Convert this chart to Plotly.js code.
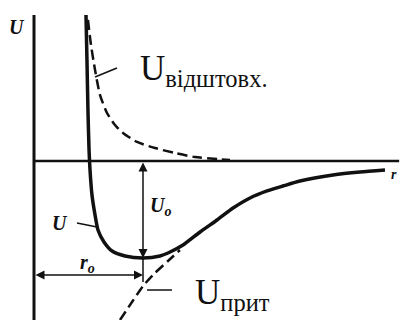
<!DOCTYPE html>
<html>
<head>
<meta charset="utf-8">
<script src="https://cdn.plot.ly/plotly-3.0.1.min.js"></script>
<style>
  html, body { margin: 0; padding: 0; background: #fff; }
  #chart { width: 400px; height: 320px; }
</style>
</head>
<body>
<div id="chart"></div>
<script>
'use strict';

// r in units of r0, U in units of U0
const totalR = [0.477, 0.486, 0.495, 0.505, 0.514, 0.532, 0.560, 0.587, 0.642, 0.716, 0.835, 1.000,
  1.156, 1.248, 1.367, 1.523, 1.679, 1.826, 1.982, 2.138, 2.284, 2.440, 2.743, 2.991, 3.220];
const totalU = [1.505, 1.041, 0.526, 0.113, -0.093, -0.351, -0.557, -0.711, -0.835, -0.928, -0.979, -1.000,
  -0.979, -0.938, -0.866, -0.732, -0.608, -0.485, -0.381, -0.309, -0.258, -0.206, -0.144, -0.113, -0.093];

const repR = [0.495, 0.523, 0.560, 0.606, 0.670, 0.743, 0.817, 0.945, 1.110, 1.294, 1.477, 1.798];
const repU = [1.454, 1.196, 0.938, 0.680, 0.495, 0.371, 0.289, 0.196, 0.134, 0.082, 0.041, 0.010];

const attR = [0.789, 0.899, 1.000, 1.110, 1.229, 1.339];
const attU = [-1.639, -1.454, -1.289, -1.155, -1.031, -0.918];

const r0 = 1;
const U0 = 1;

const labelRep = 'U<sub>відштовх.</sub>';
const labelAtt = 'U<sub>прит</sub>';

const INK = '#111';
const SERIF = 'Liberation Serif';

const data = [
  {
    x: repR, y: repU, type: 'scatter', mode: 'lines',
    line: {color: INK, width: 2.5, dash: '10px,5px', shape: 'spline', smoothing: 0.6},
    hoverinfo: 'skip'
  },
  {
    x: attR, y: attU, type: 'scatter', mode: 'lines',
    line: {color: INK, width: 2.5, dash: '10px,5px', shape: 'spline', smoothing: 0.6},
    hoverinfo: 'skip'
  },
  {
    x: totalR, y: totalU, type: 'scatter', mode: 'lines',
    line: {color: INK, width: 3.5, shape: 'spline', smoothing: 0.6},
    hoverinfo: 'skip'
  }
];

function seg(x0, y0, x1, y1, width) {
  return {type: 'line', xref: 'x', yref: 'y', x0, y0, x1, y1,
    line: {color: INK, width: width || 1.5}};
}

const shapes = [
  seg(0, -1.7, 0, 1.505, 3),          // U axis
  seg(0, 0, 3.35, 0, 2.5),            // r axis
  seg(r0, -U0, r0, -1.247, 1.5),      // drop line under the minimum
  seg(0.560, 0.866, 0.761, 0.959),    // leaders
  seg(0.394, -0.639, 0.578, -0.680),
  seg(1.037, -1.330, 1.266, -1.330)
];

function arrow(x, y, ax, ay) {
  return {x, y, ax, ay, xref: 'x', yref: 'y', axref: 'x', ayref: 'y',
    text: '', showarrow: true, arrowhead: 2, startarrowhead: 2, arrowside: 'end+start',
    arrowsize: 1.2, startarrowsize: 1.2, arrowwidth: 1.5, arrowcolor: INK};
}

function label(x, y, text, size, xanchor) {
  return {x, y, xref: 'x', yref: 'y', text, showarrow: false,
    xanchor: xanchor || 'center', yanchor: 'middle',
    font: {family: SERIF, size, color: INK}};
}

const annotations = [
  arrow(r0, -U0, r0, 0),
  arrow(r0, -1.175, 0, -1.175),
  label(-0.156, 1.381, '<b><i>U</i></b>', 20),
  label(0.239, -0.639, '<b><i>U</i></b>', 20),
  label(1.165, -0.464, '<b><i>U<sub>o</sub></i></b>', 20),
  label(0.495, -1.052, '<b><i>r<sub>o</sub></i></b>', 20),
  label(3.303, -0.134, '<b><i>r</i></b>', 14),
  label(0.954, 0.938, labelRep, 35, 'left'),
  label(1.459, -1.381, labelAtt, 35, 'left')
];

const hidden = {visible: false, showgrid: false, zeroline: false, fixedrange: true};

const layout = {
  width: 400,
  height: 320,
  margin: {l: 0, r: 0, t: 0, b: 0},
  paper_bgcolor: '#fff',
  plot_bgcolor: '#fff',
  showlegend: false,
  font: {family: SERIF},
  xaxis: Object.assign({range: [-0.3119, 3.3578]}, hidden),
  yaxis: Object.assign({range: [-1.6392, 1.6598]}, hidden),
  shapes,
  annotations
};

Plotly.newPlot('chart', data, layout, {staticPlot: true, displayModeBar: false});
</script>
</body>
</html>
